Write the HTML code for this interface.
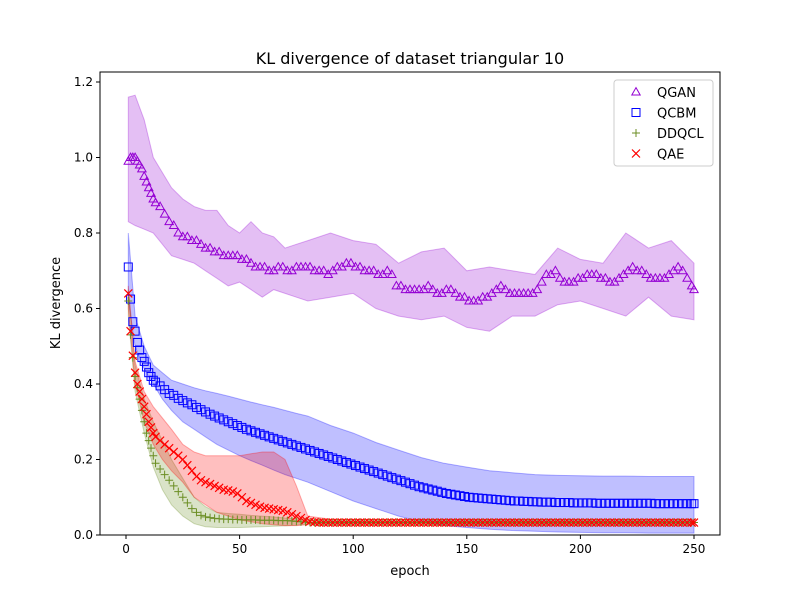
<!DOCTYPE html>
<html><head><meta charset="utf-8"><style>
html,body{margin:0;padding:0;background:#fff;}
svg{display:block;font-family:"DejaVu Sans","Liberation Sans",sans-serif;}
</style></head><body>
<svg id="chart" width="800" height="600" viewBox="0 0 800 600">
<rect x="0" y="0" width="800" height="600" fill="#fff"/>
<g id="bands"></g>
<g id="marks"></g>
<g id="axes"></g>
<text x="410" y="64" text-anchor="middle" font-size="16">KL divergence of dataset triangular 10</text>
<text x="410" y="575" text-anchor="middle" font-size="13">epoch</text>
<text x="60" y="303" text-anchor="middle" font-size="13" transform="rotate(-90 60 303)">KL divergence</text>
<g id="legend"></g>
</svg>
<script>
// ---- data ----
// epochs: 1..12, then 13..249 step 2, then 250
const epochs = [];
for (let e = 1; e <= 12; e++) epochs.push(e);
for (let e = 13; e <= 249; e += 2) epochs.push(e);
epochs.push(250);

const qgan = [0.99,1.0,1.0,1.0,0.99,0.98,0.97,0.95,0.935,0.92,0.905,0.89,
.88,.87,.85,.83,.82,.80,.79,.79,.78,.78,
.77,.76,.76,.75,.75,.74,.74,.74,.74,.73,
.73,.72,.71,.71,.71,.70,.70,.71,.71,.70,
.70,.71,.71,.71,.71,.70,.70,.70,.69,.70,
.71,.71,.72,.72,.71,.71,.70,.70,.70,.69,
.69,.70,.69,.66,.66,.65,.65,.65,.65,.65,
.66,.65,.64,.64,.65,.65,.64,.63,.63,.62,
.62,.62,.63,.63,.64,.65,.66,.65,.64,.64,
.64,.64,.64,.64,.65,.67,.69,.69,.70,.68,
.67,.67,.67,.68,.68,.69,.69,.69,.68,.68,
.67,.67,.68,.69,.70,.71,.70,.70,.69,.68,
.68,.68,.68,.69,.70,.71,.70,.68,.66,
.65];
const qcbm = [0.71,0.625,0.565,0.54,0.51,0.49,0.47,0.46,0.445,0.43,0.42,0.41,
.405,.395,.385,.375,.37,.362,.356,.35,.345,.338,
.332,.326,.32,.315,.31,.305,.30,.295,.29,.285,
.28,.276,.272,.268,.264,.26,.256,.252,.248,.244,
.24,.236,.232,.228,.224,.22,.216,.212,.208,.204,
.20,.196,.192,.188,.184,.18,.176,.172,.168,.164,
.16,.156,.152,.148,.144,.14,.136,.132,.128,.125,
.122,.119,.116,.113,.11,.108,.106,.104,.102,.10,
.099,.098,.097,.096,.095,.094,.093,.092,.091,.090,
.090,.089,.089,.088,.088,.087,.087,.087,.086,.086,
.086,.086,.085,.085,.085,.085,.085,.084,.084,.084,
.084,.084,.084,.084,.084,.084,.084,.084,.084,.084,
.083,.083,.083,.083,.083,.083,.083,.083,.083,
.083];
const ddqcl = [0.62,0.53,0.47,0.42,0.39,0.36,0.33,0.30,0.27,0.25,0.23,0.21,
.19,.175,.16,.145,.13,.115,.10,.085,.07,.06,
.052,.048,.046,.044,.043,.042,.042,.041,.041,.040,
.040,.040,.040,.039,.039,.039,.039,.038,.038,.038,
.037,.036,.035,.034,.033,.033,.033,.033,.033,.033,
.033,.033,.033,.033,.033,.033,.033,.033,.033,.033,
.033,.033,.033,.033,.033,.033,.033,.033,.033,.033,
.033,.033,.033,.033,.033,.033,.033,.033,.033,.033,
.033,.033,.033,.033,.033,.033,.033,.033,.033,.033,
.033,.033,.033,.033,.033,.033,.033,.033,.033,.033,
.033,.033,.033,.033,.033,.033,.033,.033,.033,.033,
.033,.033,.033,.033,.033,.033,.033,.033,.033,.033,
.033,.033,.033,.033,.033,.033,.033,.033,.033,
.033];
const qae = [0.64,0.54,0.475,0.43,0.40,0.38,0.36,0.34,0.32,0.30,0.285,0.27,
.26,.25,.24,.23,.22,.21,.20,.185,.17,.155,
.145,.14,.135,.13,.125,.12,.118,.115,.11,.10,
.09,.085,.08,.075,.072,.07,.068,.066,.064,.06,
.055,.05,.045,.04,.036,.034,.033,.033,.033,.033,
.033,.033,.033,.033,.033,.033,.033,.033,.033,.033,
.033,.033,.033,.033,.033,.033,.033,.033,.033,.033,
.033,.033,.033,.033,.033,.033,.033,.033,.033,.033,
.033,.033,.033,.033,.033,.033,.033,.033,.033,.033,
.033,.033,.033,.033,.033,.033,.033,.033,.033,.033,
.033,.033,.033,.033,.033,.033,.033,.033,.033,.033,
.033,.033,.033,.033,.033,.033,.033,.033,.033,.033,
.033,.033,.033,.033,.033,.033,.033,.033,.033,
.033];

const bandEpochs = [1,4,8,12,16,20,25,30,35,40,45,50,55,60,65,70,75,80,90,100,110,120,130,140,150,160,170,180,190,200,210,220,230,240,250];
const qganUpper = [1.16,1.165,1.10,1.00,0.96,0.92,0.89,0.87,0.86,0.86,0.82,0.80,0.83,0.80,0.79,0.76,0.77,0.78,0.80,0.78,0.77,0.72,0.75,0.76,0.70,0.71,0.70,0.69,0.76,0.73,0.72,0.80,0.76,0.78,0.72];
const qganLower = [0.83,0.82,0.81,0.80,0.77,0.74,0.73,0.72,0.70,0.68,0.66,0.67,0.65,0.63,0.65,0.64,0.63,0.62,0.63,0.64,0.60,0.58,0.57,0.58,0.55,0.54,0.58,0.58,0.61,0.62,0.60,0.58,0.63,0.58,0.57];
const qcbmUpper = [0.80,0.58,0.50,0.45,0.43,0.41,0.40,0.39,0.382,0.375,0.368,0.36,0.352,0.345,0.338,0.33,0.322,0.315,0.29,0.27,0.245,0.225,0.205,0.19,0.18,0.17,0.165,0.16,0.158,0.157,0.156,0.156,0.155,0.155,0.155];
const qcbmLower = [0.62,0.50,0.44,0.40,0.36,0.33,0.30,0.28,0.26,0.24,0.225,0.21,0.197,0.185,0.172,0.16,0.15,0.14,0.115,0.09,0.07,0.05,0.035,0.025,0.02,0.015,0.012,0.01,0.008,0.007,0.006,0.006,0.005,0.005,0.005];
const ddqclUpper = [0.65,0.45,0.36,0.30,0.25,0.20,0.15,0.10,0.075,0.06,0.057,0.055,0.052,0.05,0.048,0.045,0.043,0.04,0.036,0.035,0.035,0.035,0.035,0.035,0.035,0.035,0.035,0.035,0.035,0.035,0.035,0.035,0.035,0.035,0.035];
const ddqclLower = [0.58,0.38,0.27,0.18,0.12,0.08,0.05,0.03,0.022,0.02,0.02,0.02,0.021,0.022,0.023,0.024,0.026,0.03,0.03,0.031,0.031,0.031,0.031,0.031,0.031,0.031,0.031,0.031,0.031,0.031,0.031,0.031,0.031,0.031,0.031];
const qaeUpper = [0.66,0.46,0.38,0.34,0.31,0.28,0.24,0.22,0.21,0.21,0.21,0.21,0.215,0.22,0.22,0.20,0.13,0.05,0.042,0.041,0.041,0.041,0.041,0.041,0.041,0.041,0.041,0.041,0.041,0.041,0.041,0.041,0.041,0.041,0.041];
const qaeLower = [0.60,0.40,0.30,0.24,0.20,0.17,0.14,0.10,0.08,0.06,0.05,0.04,0.035,0.03,0.027,0.025,0.025,0.027,0.027,0.027,0.027,0.027,0.027,0.027,0.027,0.027,0.027,0.027,0.027,0.027,0.027,0.027,0.027,0.027,0.027];

const xTicks = [0,50,100,150,200,250];
const yTicks = [0.0,0.2,0.4,0.6,0.8,1.0,1.2];
const yTickLabels = ["0.0","0.2","0.4","0.6","0.8","1.0","1.2"];
const seriesNames = ["QGAN","QCBM","DDQCL","QAE"];

// ---- scales ----
const L=100,R=720,T=72,B=535;
const xMin=-11.45,xMax=261.45,yMin=0,yMax=1.2265;
const sx=v=>L+(v-xMin)/(xMax-xMin)*(R-L);
const sy=v=>B-(v-yMin)/(yMax-yMin)*(B-T);
const NS='http://www.w3.org/2000/svg';
function mk(tag,attrs,parent){const e=document.createElementNS(NS,tag);for(const k in attrs)e.setAttribute(k,attrs[k]);parent.appendChild(e);return e;}

const bands=document.getElementById('bands');
function band(up,lo,color,name){
  let d='';
  bandEpochs.forEach((e,i)=>{d+=(i?'L':'M')+sx(e).toFixed(1)+','+sy(up[i]).toFixed(1);});
  for(let i=bandEpochs.length-1;i>=0;i--)d+='L'+sx(bandEpochs[i]).toFixed(1)+','+sy(lo[i]).toFixed(1);
  const p=mk('path',{d:d+'Z',fill:color,'fill-opacity':0.25,stroke:color,'stroke-opacity':0.3,'stroke-width':1},bands);
  
  
}
band(qganUpper,qganLower,'#9400d3','qgan-band');
band(qcbmUpper,qcbmLower,'#0000ff','qcbm-band');
band(ddqclUpper,ddqclLower,'#6b8e23','ddqcl-band');
band(qaeUpper,qaeLower,'#ff0000','qae-band');

function marker(type,x,y,parent){
  const r=4;
  if(type==='tri') return mk('path',{d:`M${x},${y-r*1.1}L${x+r*1.05},${y+r*0.75}L${x-r*1.05},${y+r*0.75}Z`,fill:'none',stroke:'#9400d3','stroke-width':1},parent);
  if(type==='sq') return mk('rect',{x:x-r,y:y-r,width:2*r,height:2*r,fill:'none',stroke:'#0000ff','stroke-width':1},parent);
  if(type==='plus') return mk('path',{d:`M${x-r},${y}H${x+r}M${x},${y-r}V${y+r}`,stroke:'#6b8e23','stroke-width':1},parent);
  return mk('path',{d:`M${x-r},${y-r}L${x+r},${y+r}M${x-r},${y+r}L${x+r},${y-r}`,stroke:'#ff0000','stroke-width':1.2},parent);
}
const marks=document.getElementById('marks');
function series(vals,type,name){
  const g=mk('g',{},marks);
  
  
  const n=Math.min(vals.length,epochs.length);
  for(let i=0;i<n;i++){
    const m=marker(type,sx(epochs[i]),sy(vals[i]),g);
    
    
  }
}
series(qgan,'tri','qgan-series');
series(qcbm,'sq','qcbm-series');
series(ddqcl,'plus','ddqcl-series');
series(qae,'x','qae-series');

// axes
const ax=document.getElementById('axes');
const frame=mk('rect',{x:L,y:T,width:R-L,height:B-T,fill:'none',stroke:'#000','stroke-width':1},ax);


xTicks.forEach(t=>{
  const x=sx(t);
  const tk=mk('line',{x1:x,x2:x,y1:B,y2:B+4,stroke:'#000'},ax);
  
  
  const tx=mk('text',{x:x,y:B+18,'text-anchor':'middle','font-size':12},ax);
  tx.textContent=t;
  
  
});
yTicks.forEach((t,i)=>{
  const y=sy(t);
  const tk=mk('line',{x1:L-4,x2:L,y1:y,y2:y,stroke:'#000'},ax);
  
  
  const tx=mk('text',{x:L-7,y:y+4,'text-anchor':'end','font-size':12},ax);
  tx.textContent=yTickLabels[i];
  
  
});

// legend
const lg=document.getElementById('legend');
const box=mk('rect',{x:614,y:80,width:99,height:86,rx:3,fill:'#fff','fill-opacity':0.8,stroke:'#ccc'},lg);


const types=['tri','sq','plus','x'];
seriesNames.forEach((n,i)=>{
  const y=92+i*20.5;
  const g=mk('g',{},lg);
  
  
  marker(types[i],636,y,g);
  const t=mk('text',{x:657,y:y+5,'font-size':13},g);
  t.textContent=n;
});
</script>
</body></html>
